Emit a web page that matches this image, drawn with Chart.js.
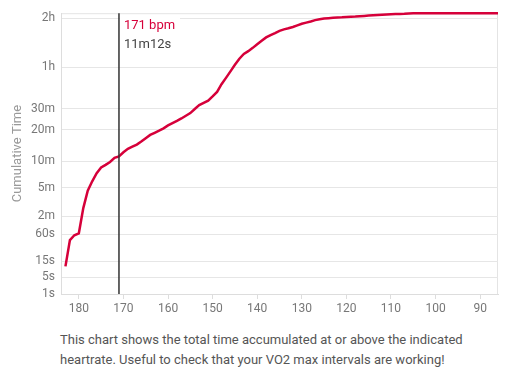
<!DOCTYPE html>
<html>
<head>
<meta charset="utf-8">
<script src="https://cdn.jsdelivr.net/npm/chart.js@4"></script>
<style>
  body { margin: 0; background: #fff; font-family: Roboto, sans-serif; }
  #wrap { position: relative; width: 509px; height: 320px; }
  #caption { padding: 10px 20px 0 60px; font-size: 13px; line-height: 20px; color: #555; }
</style>
</head>
<body>
<div id="wrap"><canvas id="hrChart"></canvas></div>
<div id="caption">This chart shows the total time accumulated at or above the indicated heartrate. Useful to check that your VO2 max intervals are working!</div>
<script>
// heart rate (bpm) and cumulative seconds at or above it
const bpm = [183, 182, 181, 180, 179, 178, 177, 176, 175, 174, 173, 172, 171, 170, 169, 168, 167, 166, 165, 164,
  163, 162, 161, 160, 159, 158, 157, 156, 155, 154, 153, 152, 151, 150, 149, 148, 147, 146, 145, 144,
  143, 142, 141, 140, 139, 138, 137, 136, 135, 134, 133, 132, 131, 130, 129, 128, 127, 126, 125, 124,
  123, 122, 121, 120, 119, 118, 117, 116, 115, 114, 113, 112, 111, 110, 109, 108, 107, 106, 105, 104,
  103, 102, 101, 100, 99, 98, 97, 96, 95, 94, 93, 92, 91, 90, 89, 88, 87, 86];
const seconds = [11, 46, 57, 62, 160, 275, 359, 445, 515, 550, 590, 650, 672, 740, 800, 840, 880, 940, 1010, 1080,
  1130, 1180, 1235, 1310, 1370, 1430, 1500, 1580, 1660, 1790, 1920, 2000, 2080, 2240, 2420, 2750, 3050, 3380, 3740, 4100,
  4400, 4580, 4800, 5050, 5300, 5560, 5740, 5900, 6080, 6200, 6290, 6400, 6540, 6680, 6780, 6880, 7010, 7090, 7160, 7190,
  7220, 7250, 7270, 7300, 7320, 7340, 7370, 7400, 7430, 7460, 7490, 7520, 7540, 7565, 7580, 7590, 7600, 7640, 7645, 7650,
  7652, 7653, 7654, 7655, 7655, 7656, 7656, 7657, 7657, 7658, 7658, 7659, 7659, 7660, 7660, 7660, 7660, 7660];
const yTickValues = [1, 5, 15, 60, 120, 300, 600, 1200, 1800, 3600, 7200];
const yTickLabels = ['1s', '5s', '15s', '60s', '2m', '5m', '10m', '20m', '30m', '1h', '2h'];
const markerBpm = 171;

// fourth-root time axis
class Root4Scale extends Chart.Scale {
  static id = 'root4';
  static defaults = {};
  determineDataLimits() {
    const { min, max } = this.getMinMax(true);
    this.min = this.options.min ?? min;
    this.max = this.options.max ?? max;
  }
  buildTicks() {
    return yTickValues.map(v => ({ value: v }));
  }
  configure() {
    super.configure();
    this._start = Math.pow(this.min, 0.25);
    this._range = Math.pow(this.max, 0.25) - this._start;
  }
  getPixelForValue(value) {
    if (value === undefined || value <= 0) value = this.min;
    return this.getPixelForDecimal((Math.pow(value, 0.25) - this._start) / this._range);
  }
  getValueForPixel(pixel) {
    const d = this.getDecimalForPixel(pixel);
    return Math.pow(this._start + d * this._range, 4);
  }
}
Chart.register(Root4Scale);

function fmtTime(s) {
  const m = Math.floor(s / 60);
  return m + 'm' + (s - m * 60) + 's';
}

const markerPlugin = {
  id: 'marker',
  beforeDraw(chart) {
    const { ctx, chartArea: a } = chart;
    ctx.save();
    ctx.strokeStyle = '#e4e4e4';
    ctx.lineWidth = 1;
    ctx.beginPath();
    ctx.moveTo(a.left, a.top + 0.5);
    ctx.lineTo(a.right - 0.5, a.top + 0.5);
    ctx.lineTo(a.right - 0.5, a.bottom);
    ctx.stroke();
    ctx.restore();
  },
  afterDatasetsDraw(chart) {
    const { ctx, chartArea: a } = chart;
    const x = chart.scales.x.getPixelForValue(markerBpm);
    const val = seconds[bpm.indexOf(markerBpm)];
    ctx.save();
    ctx.fillStyle = '#fff';
    ctx.fillRect(x + 1, a.top + 2, 60, 44);
    ctx.strokeStyle = '#333';
    ctx.lineWidth = 1.5;
    ctx.beginPath();
    ctx.moveTo(x, a.top);
    ctx.lineTo(x, a.bottom);
    ctx.stroke();
    ctx.font = '13px Roboto';
    ctx.textBaseline = 'middle';
    ctx.fillStyle = '#d6003a';
    ctx.fillText(markerBpm + ' bpm', x + 5, 26);
    ctx.fillStyle = '#444';
    ctx.fillText(fmtTime(val), x + 5, 45);
    ctx.restore();
  }
};

const ctx = document.getElementById('hrChart').getContext('2d');
new Chart(ctx, {
  type: 'line',
  data: {
    datasets: [{
      data: bpm.map((b, i) => ({ x: b, y: seconds[i] })),
      borderColor: '#d6003a',
      borderWidth: 2.5,
      pointRadius: 0,
      tension: 0,
      fill: false
    }]
  },
  options: {
    responsive: true,
    maintainAspectRatio: false,
    animation: false,
    events: [],
    layout: { padding: { top: 11, right: 11, left: 0, bottom: 0 } },
    plugins: { legend: { display: false }, tooltip: { enabled: false } },
    scales: {
      x: {
        type: 'linear',
        reverse: true,
        min: 86,
        max: 184,
        afterFit(s) { s.height = 26; },
        afterBuildTicks(s) {
          s.ticks = [180, 170, 160, 150, 140, 130, 120, 110, 100, 90].map(v => ({ value: v }));
        },
        grid: { drawOnChartArea: false, color: '#ddd', tickLength: 5 },
        border: { color: '#ddd' },
        ticks: { color: '#777', font: { family: 'Roboto', size: 12 }, padding: 3 }
      },
      y: {
        type: 'root4',
        position: 'left',
        min: 1,
        afterFit(s) { s.width = 61; },
        grid: { color: '#e6e6e6', drawTicks: false },
        border: { color: '#ddd' },
        ticks: {
          color: '#777',
          font: { family: 'Roboto', size: 12 },
          padding: 6,
          autoSkip: false,
          callback: (v) => yTickLabels[yTickValues.indexOf(v)]
        },
        title: {
          display: true,
          text: 'Cumulative Time',
          color: '#999',
          font: { family: 'Roboto', size: 13 },
          padding: { top: 10, bottom: 0 }
        }
      }
    }
  },
  plugins: [markerPlugin]
});
</script>
</body>
</html>
